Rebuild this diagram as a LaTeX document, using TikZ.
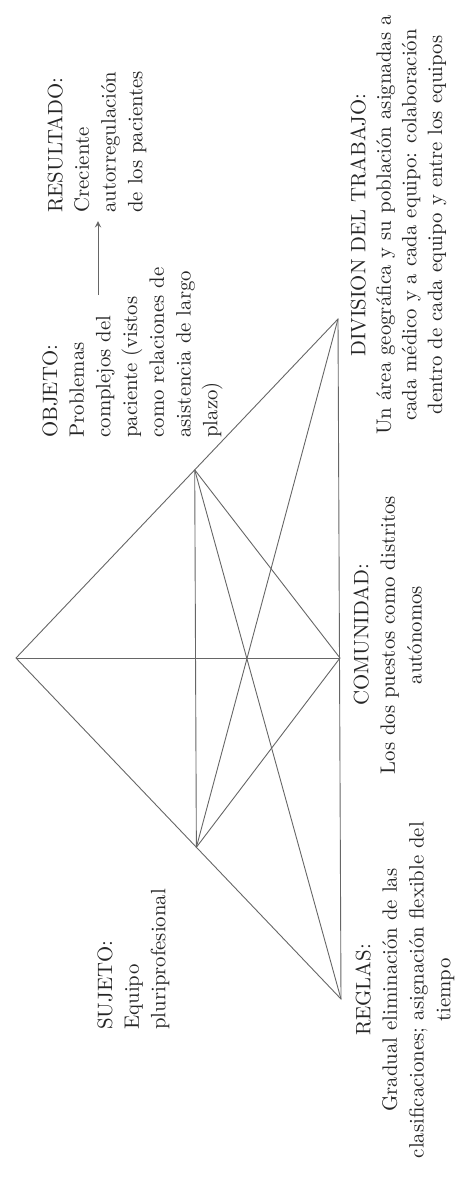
\documentclass[tikz,border=0pt]{standalone}
\usepackage{tikz}
\usetikzlibrary{calc}

\tikzset{
  lbl/.style={rotate=90, inner sep=0pt, text=black!85,
    font=\fontsize{10.4}{13.35}\selectfont},
  edge/.style={draw=black!60, line width=0.45pt},
}

\begin{document}
\begin{tikzpicture}[x=0.5pt, y=-0.5pt]
\useasboundingbox (0,0) rectangle (457,1180);

% vertices of the activity triangle
\coordinate (ins) at (16,658);
\coordinate (reg) at (341,999);
\coordinate (div) at (338,319);
\coordinate (com) at (340,658);
\coordinate (sub) at ($(ins)!0.555!(reg)$);
\coordinate (obj) at ($(ins)!0.555!(div)$);

\draw[edge] (ins) -- (reg) -- (div) -- cycle;
\draw[edge] (sub) -- (obj);
\draw[edge] (ins) -- (com);
\draw[edge] (sub) -- (com) -- (obj);
\draw[edge] (sub) -- (div);
\draw[edge] (obj) -- (reg);

% labels
\node[lbl, anchor=north west, align=left] (resultado) at (47,213)
  {RESULTADO:\\Creciente\\autorregulación\\de los pacientes};
\node[lbl, anchor=north west, align=left] (objeto) at (42,438)
  {OBJETO:\\Problemas\\complejos del\\paciente (vistos\\como relaciones de\\asistencia de largo\\plazo)};
\node[lbl, anchor=north west, align=left] (sujeto) at (97,1030)
  {SUJETO:\\Equipo\\pluriprofesional};
\node[lbl, anchor=north, align=center] (reglas) at (355,990)
  {REGLAS:\\Gradual eliminación de las\\clasificaciones; asignación flexible del\\tiempo};
\node[lbl, anchor=north, align=center] (comunidad) at (353,635)
  {COMUNIDAD:\\Los dos puestos como distritos\\autónomos};
\node[lbl, anchor=north, align=center, font=\fontsize{10.4}{12.8}\selectfont] (division) at (350,225)
  {DIVISION DEL TRABAJO:\\Un área geográfica y su población asignadas a\\cada médico y a cada equipo: colaboración\\dentro de cada equipo y entre los equipos};

% objeto -> resultado
\coordinate (objout) at (98,295);
\coordinate (resin) at (98,221);
\draw[edge, -stealth] (objout) -- (resin);
\end{tikzpicture}
\end{document}
